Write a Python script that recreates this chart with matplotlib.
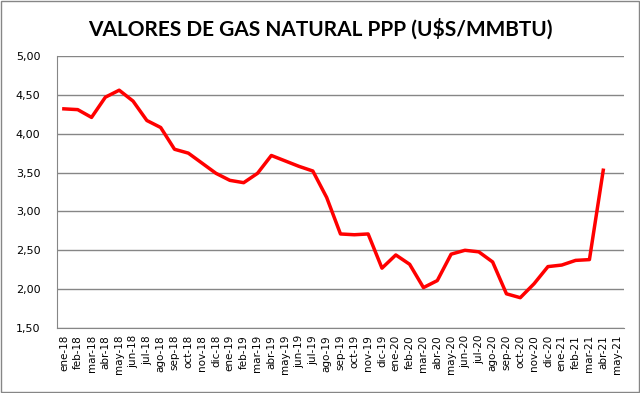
import matplotlib.pyplot as plt
from matplotlib.patches import Rectangle
from matplotlib.ticker import FuncFormatter

meses = ['ene', 'feb', 'mar', 'abr', 'may', 'jun', 'jul', 'ago', 'sep', 'oct', 'nov', 'dic']
etiquetas = [f'{m}-{a}' for a in ['18', '19', '20'] for m in meses] + \
    ['ene-21', 'feb-21', 'mar-21', 'abr-21', 'may-21']

valores = [4.32, 4.31, 4.21, 4.47, 4.56, 4.42, 4.17, 4.08, 3.80, 3.75, 3.62, 3.49,
           3.40, 3.37, 3.49, 3.72, 3.65, 3.58, 3.52, 3.18, 2.71, 2.70, 2.71, 2.27,
           2.44, 2.32, 2.02, 2.11, 2.45, 2.50, 2.48, 2.35, 1.94, 1.89, 2.07, 2.29,
           2.31, 2.37, 2.38, 3.53]

fig = plt.figure(figsize=(6.4, 3.93), dpi=100)
ax = fig.add_axes([0.089, 0.1654, 0.886, 0.6921])

x = list(range(len(valores)))
ax.plot(x, valores, color='#ff0000', linewidth=2.5, solid_joinstyle='round')

ax.set_xlim(-0.5, len(etiquetas) - 0.5)
ax.set_ylim(1.5, 5.0)
ax.set_yticks([1.5, 2.0, 2.5, 3.0, 3.5, 4.0, 4.5, 5.0])
ax.yaxis.set_major_formatter(FuncFormatter(lambda v, p: f'{v:.2f}'.replace('.', ',')))
ax.set_xticks(range(len(etiquetas)))
ax.set_xticklabels(etiquetas, rotation=90, fontsize=7.5, family='DejaVu Sans')
ax.tick_params(axis='y', labelsize=8, length=0, pad=12)
ax.tick_params(axis='x', length=0, pad=5)

ax.grid(axis='y', color='#868686', linewidth=1)
ax.set_axisbelow(True)
for s in ['top', 'right']:
    ax.spines[s].set_visible(False)
ax.spines['left'].set_color('#868686')
ax.spines['bottom'].set_color('#868686')

fig.text(0.5, 0.925, 'VALORES DE GAS NATURAL PPP (U$S/MMBTU)', ha='center', va='center',
         fontsize=15, fontweight='bold', family='Lato')

fig.patches.append(Rectangle((0.002, 0.003), 0.996, 0.994, transform=fig.transFigure,
                             fill=False, edgecolor='#868686', linewidth=1))

fig.savefig('out.png', dpi=100)
